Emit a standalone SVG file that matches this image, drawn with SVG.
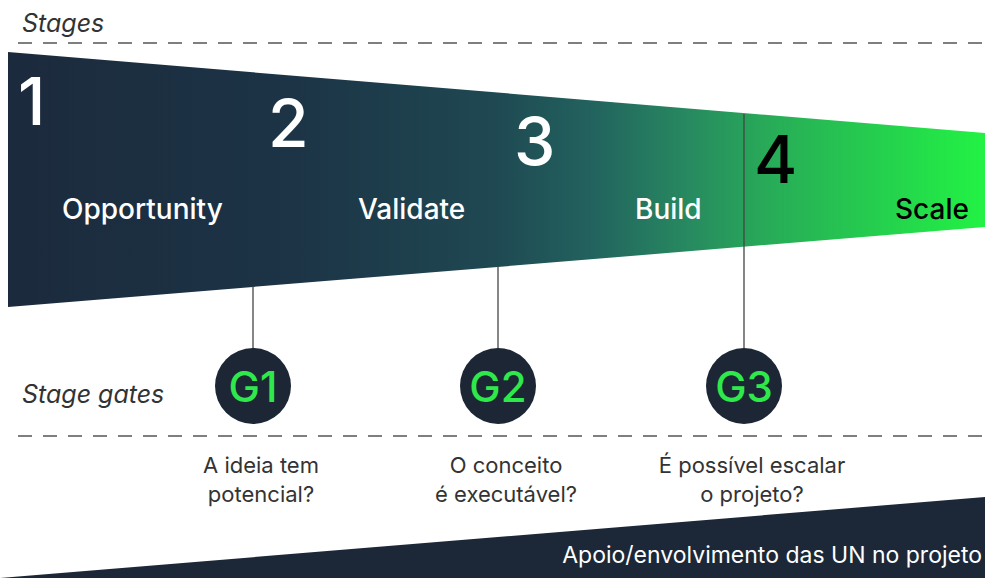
<svg xmlns="http://www.w3.org/2000/svg" width="985" height="578" viewBox="0 0 985 578">
<defs>
<linearGradient id="funnelGrad" x1="0" y1="0" x2="985" y2="0" gradientUnits="userSpaceOnUse">
<stop offset="0" stop-color="#1b2a3c"/>
<stop offset="0.3" stop-color="#1c3446"/>
<stop offset="0.5" stop-color="#1f4852"/>
<stop offset="0.6" stop-color="#22625e"/>
<stop offset="0.7" stop-color="#278a60"/>
<stop offset="0.78" stop-color="#28ab58"/>
<stop offset="1" stop-color="#22f244"/>
</linearGradient>
<style>
.dash{stroke:#555;stroke-width:1.3;stroke-dasharray:14 11;fill:none}
.conn{stroke:#444;stroke-width:1.3;fill:none}
.num{font-family:Inter,"Liberation Sans",sans-serif;font-size:66px;font-weight:500}
.lbl{font-family:Inter,"Liberation Sans",sans-serif;font-size:28px;font-weight:500}
.ital{font-family:Inter,"Liberation Sans",sans-serif;font-size:25px;font-style:italic;fill:#333}
.gate{fill:#1c2634}
.gtxt{font-family:Inter,"Liberation Sans",sans-serif;font-size:42px;font-weight:500;fill:#2fe84b;text-anchor:middle}
.q{font-family:Inter,"Liberation Sans",sans-serif;font-size:22px;fill:#333;text-anchor:middle}
</style>
</defs>
<rect width="985" height="578" fill="#ffffff"/>
<g id="guides">
<text class="ital" x="22" y="32">Stages</text>
<line class="dash" x1="18" y1="43" x2="985" y2="43"/>
<text class="ital" x="22" y="403">Stage gates</text>
<line class="dash" x1="18" y1="436" x2="985" y2="436"/>
</g>
<g id="funnel">
<polygon points="8,52 985,133 985,227 8,307" fill="url(#funnelGrad)"/>
</g>
<g id="connectors">
<line class="conn" x1="253" y1="286" x2="253" y2="349"/>
<line class="conn" x1="498" y1="266" x2="498" y2="349"/>
<line class="conn" x1="744" y1="114" x2="744" y2="349"/>
</g>
<g id="stage1">
<text class="num" x="18" y="125" fill="#ffffff">1</text>
<text class="lbl" x="62" y="219" fill="#ffffff">Opportunity</text>
</g>
<g id="stage2">
<text class="num" x="268" y="147" fill="#ffffff">2</text>
<text class="lbl" x="358" y="219" fill="#ffffff">Validate</text>
</g>
<g id="stage3">
<text class="num" x="514" y="165" fill="#ffffff">3</text>
<text class="lbl" x="635" y="219" fill="#ffffff">Build</text>
</g>
<g id="stage4">
<text class="num" x="754" y="183" fill="#000000">4</text>
<text class="lbl" x="895" y="219" fill="#000000">Scale</text>
</g>
<g id="gate1">
<circle class="gate" cx="253" cy="386" r="38"/>
<text class="gtxt" x="253" y="402">G1</text>
<text class="q" x="261" y="473">A ideia tem</text>
<text class="q" x="261" y="502">potencial?</text>
</g>
<g id="gate2">
<circle class="gate" cx="498" cy="386" r="38"/>
<text class="gtxt" x="498" y="402">G2</text>
<text class="q" x="506" y="473">O conceito</text>
<text class="q" x="506" y="502">é executável?</text>
</g>
<g id="gate3">
<circle class="gate" cx="744" cy="386" r="38"/>
<text class="gtxt" x="744" y="402">G3</text>
<text class="q" x="752" y="473">É possível escalar</text>
<text class="q" x="752" y="502">o projeto?</text>
</g>
<g id="support">
<polygon points="0,578 985,497 985,578" fill="#1c2838"/>
<text x="982" y="563" font-family="Inter,'Liberation Sans',sans-serif" font-size="23" fill="#ffffff" text-anchor="end">Apoio/envolvimento das UN no projeto</text>
</g>
</svg>
